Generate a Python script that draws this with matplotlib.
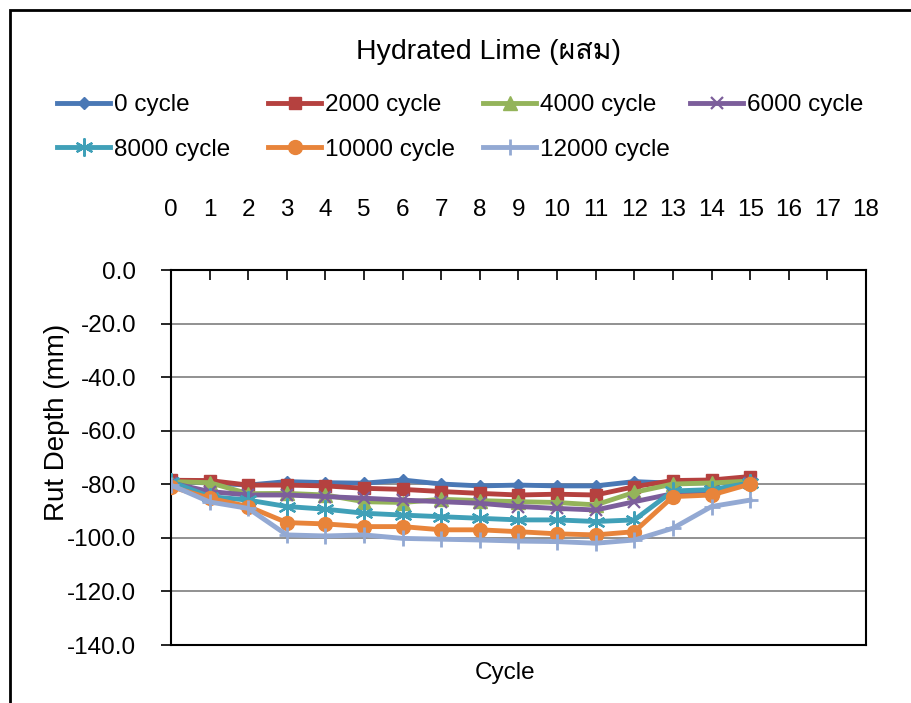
import matplotlib
matplotlib.use("Agg")
import matplotlib.pyplot as plt
from matplotlib import font_manager, ft2font
from matplotlib.patches import Rectangle

# look for an installed family that can draw Thai (for the title)
thai_family = None
for f in font_manager.fontManager.ttflist:
    try:
        if 0x0E1C in ft2font.FT2Font(f.fname).get_charmap():
            thai_family = f.name
            break
    except Exception:
        pass
families = ['Liberation Sans', 'DejaVu Sans']
if thai_family:
    families.insert(1, thai_family)
plt.rcParams['font.family'] = families

points = list(range(16))
labels = ["0 cycle", "2000 cycle", "4000 cycle", "6000 cycle",
          "8000 cycle", "10000 cycle", "12000 cycle"]
rut_0 = [-79.0, -79.5, -80.3, -79.0, -79.4, -79.6, -78.4, -79.9,
         -80.6, -80.3, -80.6, -80.6, -79.0, -79.6, -79.4, -78.6]
rut_2000 = [-78.5, -78.6, -80.3, -80.3, -80.6, -81.5, -81.9, -82.7,
            -83.4, -84.0, -83.7, -84.0, -80.9, -78.6, -78.4, -77.1]
rut_4000 = [-79.0, -79.4, -83.5, -83.4, -84.0, -86.5, -86.8, -85.6,
            -86.1, -86.5, -86.8, -87.7, -83.0, -79.9, -79.5, -78.8]
rut_6000 = [-79.5, -82.7, -84.0, -84.0, -84.6, -85.2, -85.9, -86.5,
            -87.1, -88.3, -89.0, -89.6, -86.5, -83.5, -82.7, -79.5]
rut_8000 = [-79.0, -84.6, -85.9, -88.3, -89.3, -90.8, -91.5, -92.1,
            -92.7, -93.3, -93.3, -93.9, -93.3, -82.5, -82.0, -79.5]
rut_10000 = [-80.9, -85.2, -88.3, -94.3, -94.8, -95.8, -95.8, -97.0,
             -97.0, -97.7, -98.5, -98.9, -97.7, -84.6, -84.0, -79.9]
rut_12000 = [-80.3, -86.6, -89.0, -98.9, -99.3, -98.9, -100.2, -100.5,
             -100.8, -101.2, -101.4, -102.0, -100.8, -96.4, -88.3, -85.9]
series = [rut_0, rut_2000, rut_4000, rut_6000, rut_8000, rut_10000, rut_12000]

colors = ['#4A78B5', '#B5413F', '#94B45A', '#7C5E9B', '#40A0B8', '#E8843A', '#93A9D3']
# marker, size, edge width
markers = [('D', 6.5, 1), ('s', 9, 1), ('^', 9.5, 1), ('x', 8.5, 1.6),
           ((6, 2, 0), 13, 1.6), ('o', 10, 1), ('+', 12, 2)]

fig = plt.figure(figsize=(9.12, 7.03), dpi=100)
ax = fig.add_axes([171 / 912, 1 - 645 / 703, 695 / 912, 375 / 703])

handles = []
for vals, lab, col, (mk, ms, mew) in zip(series, labels, colors, markers):
    h, = ax.plot(points, vals, color=col, lw=3.5, marker=mk, ms=ms, mew=mew,
                 mec=col, mfc=col, label=lab, zorder=3)
    handles.append(h)

ax.set_xlim(0, 18)
ax.set_ylim(-140, 0)
ax.set_xticks(range(19))
ax.set_yticks(range(-140, 1, 20))
ax.set_yticklabels([f"{v:.1f}" for v in range(-140, 1, 20)])
ax.xaxis.tick_top()
ax.tick_params(axis='x', direction='in', length=7, width=1.2, pad=35,
               labelsize=17.5, colors='black')
ax.tick_params(axis='y', direction='out', length=7, width=1.2, pad=18,
               labelsize=17.5)
ax.grid(axis='y', color='#888888', lw=1.3)
ax.set_axisbelow(True)
for s in ax.spines.values():
    s.set_linewidth(1.5)
    s.set_color('black')

fig.text(57 / 912, 1 - 422 / 703, "Rut Depth (mm)", fontsize=20,
         rotation=90, ha='center', va='center')
fig.text(505 / 912, 1 - 673 / 703, "Cycle", fontsize=17.5, ha='center', va='center')
fig.text(489 / 912, 1 - 52 / 703, "Hydrated Lime (ผสม)", fontsize=20.5,
         ha='center', va='center')

# one legend per column so columns sit where Excel put them
col_x = [57, 268, 483, 690]
cols = [[0, 4], [1, 5], [2, 6], [3]]
for cx, idx in zip(col_x, cols):
    fig.legend([handles[i] for i in idx], [labels[i] for i in idx],
               loc='upper left', bbox_to_anchor=(cx / 912, 1 - 94 / 703),
               frameon=False, fontsize=17.5, handlelength=2.2,
               handletextpad=0.15, labelspacing=0.93, borderaxespad=0,
               borderpad=0)

# outer chart frame
fig.patches.append(Rectangle((10 / 912, -0.1), 1.2, 1 - 10 / 703 + 0.1,
                             transform=fig.transFigure, fill=False,
                             edgecolor='black', lw=2))

fig.savefig("out.png", dpi=100)
